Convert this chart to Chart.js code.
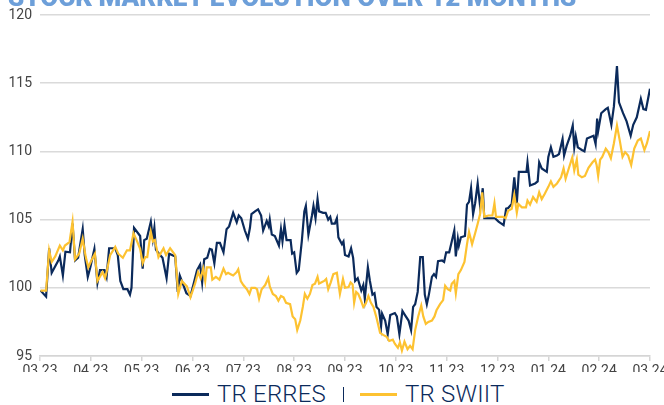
<!DOCTYPE html>
<html>
<head>
<meta charset="utf-8">
<script src="https://cdn.jsdelivr.net/npm/chart.js@4.4.0/dist/chart.umd.min.js"></script>
<style>
  body { margin: 0; background: #fff; }
  #page { position: relative; width: 664px; height: 405px; overflow: hidden; }
  #title { position: absolute; left: 8px; top: -18px; font: 900 26px Roboto, 'Liberation Sans', sans-serif; color: #6d9fd9; white-space: nowrap; }
  #plot { position: absolute; left: 0; top: 0; width: 664px; height: 372px; overflow: hidden; }
  #plot canvas { display: block; }
  #legend { position: absolute; left: 172px; top: 382px; height: 24px; display: flex; align-items: center; font: 300 24px/24px Roboto, 'Liberation Sans', sans-serif; color: #0b2a5b; white-space: nowrap; letter-spacing: 0.2px; }
  .sw { display: inline-block; width: 37px; height: 3px; margin-right: 8px; }
  .sep { display: inline-block; width: 1px; height: 15px; background: #0b2a5b; margin: 0 16px 0 17px; }
</style>
</head>
<body>
<div id="page">
  <div id="plot"><canvas id="grafik" width="664" height="386"></canvas></div>
  <div id="title"></div>
  <div id="legend"></div>
</div>
<script>
const judul = 'STOCK MARKET EVOLUTION OVER 12 MONTHS';
const bulan = ['03.23', '04.23', '05.23', '06.23', '07.23', '08.23', '09.23', '10.23', '11.23', '12.23', '01.24', '02.24', '03.24'];
const namaSeri = ['TR ERRES', 'TR SWIIT'];
const warnaSeri = ['#0b2a5b', '#fdc231'];

// position of each reading in months since 03.23
const erresWaktu = [
  0.01, 0.12, 0.18, 0.23, 0.36, 0.39, 0.45, 0.50, 0.59, 0.64,
  0.69, 0.75, 0.84, 0.88, 0.94, 0.99, 1.07, 1.13, 1.18, 1.27,
  1.31, 1.36, 1.48, 1.53, 1.58, 1.64, 1.72, 1.77, 1.80, 1.85,
  1.97, 2.02, 2.05, 2.10, 2.18, 2.22, 2.25, 2.28, 2.34, 2.41,
  2.49, 2.54, 2.66, 2.71, 2.75, 2.82, 2.88, 2.96, 3.03, 3.09,
  3.15, 3.19, 3.23, 3.29, 3.34, 3.38, 3.43, 3.48, 3.54, 3.61,
  3.67, 3.72, 3.80, 3.87, 3.91, 3.96, 4.03, 4.09, 4.13, 4.16,
  4.23, 4.29, 4.35, 4.39, 4.46, 4.50, 4.52, 4.56, 4.62, 4.70,
  4.74, 4.77, 4.81, 4.85, 4.93, 4.96, 5.00, 5.05, 5.09, 5.15,
  5.20, 5.23, 5.28, 5.35, 5.38, 5.42, 5.46, 5.49, 5.57, 5.62,
  5.67, 5.71, 5.74, 5.80, 5.84, 5.87, 5.94, 5.97, 6.00, 6.07,
  6.12, 6.16, 6.20, 6.25, 6.32, 6.36, 6.39, 6.45, 6.49, 6.54,
  6.58, 6.62, 6.67, 6.71, 6.73, 6.79, 6.84, 6.89, 6.98, 7.02,
  7.07, 7.13, 7.18, 7.25, 7.30, 7.34, 7.38, 7.43, 7.48, 7.53,
  7.57, 7.61, 7.65, 7.71, 7.75, 7.79, 7.83, 7.91, 7.95, 7.99,
  8.05, 8.10, 8.15, 8.18, 8.22, 8.24, 8.28, 8.36, 8.40, 8.44,
  8.48, 8.52, 8.56, 8.61, 8.66, 8.71, 8.74, 8.81, 8.90, 8.95,
  9.02, 9.12, 9.17, 9.21, 9.28, 9.33, 9.38, 9.42, 9.48, 9.57,
  9.59, 9.64, 9.74, 9.79, 9.82, 9.87, 9.97, 10.00, 10.05, 10.10,
  10.17, 10.21, 10.28, 10.31, 10.36, 10.43, 10.48, 10.51, 10.54, 10.58,
  10.66, 10.71, 10.76, 10.89, 10.93, 10.96, 10.98, 11.04, 11.13, 11.17,
  11.24, 11.29, 11.35, 11.39, 11.47, 11.54, 11.62, 11.67, 11.74, 11.82,
  11.87, 11.92, 12.00
];
const erresNilai = [
  99.8, 99.35, 102.9, 101.1, 102.0, 102.3, 100.9, 102.65, 102.6, 104.7,
  102.0, 102.2, 104.3, 102.4, 100.8, 101.5, 102.85, 100.35, 101.3, 101.3,
  100.8, 102.9, 102.9, 102.4, 100.5, 99.9, 99.9, 99.5, 100.0, 104.4,
  103.8, 101.4, 103.5, 103.6, 104.85, 103.6, 104.4, 102.8, 102.5, 102.2,
  100.7, 102.5, 102.3, 99.7, 100.9, 100.2, 99.6, 99.4, 100.4, 101.3,
  101.7, 100.4, 102.1, 102.2, 102.85, 102.8, 101.8, 103.3, 103.3, 102.6,
  104.3, 104.5, 105.5, 104.8, 105.3, 105.1, 104.2, 103.6, 104.4, 105.4,
  105.6, 105.75, 105.3, 104.2, 104.9, 104.5, 105.0, 103.9, 103.8, 103.1,
  104.3, 103.4, 104.6, 103.5, 103.5, 102.5, 102.6, 101.1, 101.3, 103.4,
  105.6, 106.0, 103.9, 105.3, 106.0, 105.1, 106.5, 105.6, 105.5, 105.5,
  105.0, 105.2, 104.7, 104.7, 105.1, 103.7, 103.2, 103.4, 102.4, 102.3,
  102.9, 102.2, 100.5, 100.7, 99.8, 100.2, 99.2, 101.5, 100.5, 99.5,
  99.6, 98.6, 98.4, 97.2, 98.1, 97.6, 96.6, 98.0, 98.15, 97.9,
  96.6, 98.3, 98.0, 97.6, 96.9, 98.6, 98.8, 99.7, 102.25, 102.25,
  99.5, 98.8, 99.5, 100.8, 101.0, 100.8, 101.95, 102.0, 101.9, 102.6,
  102.6, 103.4, 104.2, 102.3, 103.6, 103.1, 103.7, 103.8, 106.1, 106.3,
  107.3, 105.4, 106.2, 107.65, 105.9, 107.3, 105.1, 105.1, 105.1, 105.1,
  104.85, 104.6, 105.8, 105.85, 106.15, 108.1, 106.2, 108.5, 108.5, 108.5,
  109.2, 107.5, 107.65, 107.8, 109.2, 108.75, 108.5, 109.6, 110.3, 109.6,
  109.7, 109.8, 110.9, 109.7, 110.4, 111.15, 111.9, 110.3, 111.1, 110.3,
  110.1, 110.0, 110.95, 111.15, 110.55, 112.4, 111.5, 112.8, 113.1, 113.2,
  111.95, 113.3, 116.25, 113.6, 112.8, 112.2, 111.15, 111.95, 112.5, 113.85,
  113.1, 113.05, 114.6
];

const swiitWaktu = [
  0.01, 0.12, 0.18, 0.23, 0.30, 0.39, 0.45, 0.49, 0.58, 0.64,
  0.69, 0.77, 0.84, 0.90, 0.95, 1.01, 1.08, 1.13, 1.23, 1.28,
  1.31, 1.38, 1.48, 1.54, 1.63, 1.71, 1.77, 1.84, 1.90, 1.97,
  2.02, 2.07, 2.11, 2.18, 2.22, 2.26, 2.33, 2.43, 2.48, 2.56,
  2.66, 2.72, 2.79, 2.89, 2.96, 3.05, 3.11, 3.16, 3.21, 3.25,
  3.28, 3.36, 3.39, 3.46, 3.53, 3.61, 3.66, 3.70, 3.75, 3.80,
  3.87, 3.90, 3.95, 4.00, 4.07, 4.12, 4.16, 4.23, 4.27, 4.31,
  4.36, 4.43, 4.49, 4.52, 4.58, 4.64, 4.69, 4.74, 4.79, 4.84,
  4.92, 4.97, 5.02, 5.06, 5.12, 5.17, 5.21, 5.26, 5.31, 5.36,
  5.41, 5.46, 5.49, 5.54, 5.59, 5.63, 5.67, 5.72, 5.77, 5.84,
  5.90, 5.96, 6.00, 6.07, 6.11, 6.15, 6.18, 6.22, 6.26, 6.30,
  6.36, 6.41, 6.46, 6.51, 6.56, 6.62, 6.69, 6.75, 6.82, 6.87,
  6.94, 6.98, 7.04, 7.08, 7.12, 7.17, 7.23, 7.28, 7.33, 7.38,
  7.44, 7.50, 7.54, 7.59, 7.64, 7.71, 7.76, 7.80, 7.87, 7.93,
  7.97, 8.02, 8.07, 8.10, 8.15, 8.18, 8.23, 8.28, 8.35, 8.40,
  8.44, 8.50, 8.56, 8.61, 8.66, 8.70, 8.74, 8.82, 8.90, 8.94,
  8.97, 9.03, 9.11, 9.16, 9.21, 9.28, 9.33, 9.38, 9.41, 9.48,
  9.56, 9.59, 9.64, 9.70, 9.77, 9.82, 9.87, 9.93, 10.00, 10.05,
  10.10, 10.17, 10.25, 10.30, 10.34, 10.39, 10.47, 10.51, 10.56, 10.59,
  10.66, 10.72, 10.79, 10.87, 10.92, 10.95, 10.98, 11.02, 11.06, 11.13,
  11.18, 11.23, 11.29, 11.35, 11.41, 11.46, 11.51, 11.57, 11.63, 11.69,
  11.76, 11.82, 11.89, 11.94, 12.00
];
const swiitNilai = [
  99.8, 99.8, 102.75, 101.9, 102.3, 103.1, 102.75, 103.1, 103.35, 104.85,
  102.1, 102.5, 103.6, 102.25, 101.5, 102.0, 102.5, 100.5, 101.15, 100.7,
  101.15, 102.4, 103.0, 102.5, 102.2, 102.75, 102.75, 104.0, 103.5, 102.85,
  101.8, 102.25, 102.25, 104.1, 103.4, 103.5, 102.25, 102.9, 102.4, 102.9,
  102.4, 99.55, 100.5, 100.1, 99.3, 100.3, 101.15, 100.7, 101.4, 100.5,
  101.5, 101.5, 100.6, 100.8, 100.6, 101.4, 101.0, 101.1, 101.0, 100.9,
  101.15, 101.35, 100.5, 100.2, 99.9, 99.55, 100.0, 100.0, 99.9, 99.2,
  99.9, 100.2, 100.7, 100.1, 99.55, 99.4, 99.05, 99.4, 99.3, 98.9,
  98.8, 97.9, 97.7, 96.9, 97.6, 98.6, 99.55, 99.2, 99.55, 100.2,
  100.3, 100.8, 100.3, 100.4, 100.5, 100.65, 99.9, 100.4, 101.0, 101.1,
  99.55, 100.65, 100.0, 100.05, 100.4, 100.25, 98.9, 99.7, 99.55, 99.2,
  98.6, 98.85, 99.4, 98.9, 98.6, 97.8, 96.7, 96.55, 96.4, 96.1,
  96.2, 95.9, 95.6, 96.0, 95.4, 96.05, 95.5, 95.75, 95.5, 96.9,
  97.9, 98.7, 97.9, 97.35, 97.5, 97.6, 97.9, 98.35, 98.8, 99.1,
  100.15, 99.9, 99.8, 100.3, 100.5, 99.6, 101.0, 101.3, 101.9, 103.2,
  104.1, 103.2, 104.0, 104.7, 105.45, 107.0, 105.2, 105.3, 105.3, 106.2,
  105.2, 105.2, 105.2, 105.1, 105.65, 105.8, 106.8, 105.5, 106.15, 105.9,
  105.9, 106.4, 106.1, 106.65, 106.3, 107.0, 106.5, 106.9, 107.4, 107.8,
  107.4, 107.65, 108.1, 108.75, 108.0, 108.6, 109.55, 108.6, 109.4, 108.3,
  108.1, 108.2, 108.8, 109.2, 109.4, 109.0, 108.2, 109.4, 109.6, 110.2,
  109.95, 109.5, 110.6, 111.9, 110.7, 109.6, 109.95, 109.7, 109.0, 110.2,
  110.8, 110.95, 110.1, 110.6, 111.5
];

const yTicks = [95, 100, 105, 110, 115, 120];

function gabung(waktu, nilai) {
  return waktu.map((w, i) => ({ x: w, y: nilai[i] }));
}

document.getElementById('title').textContent = judul;

// legend: line swatch + name, thin bar between the two series
const legend = document.getElementById('legend');
namaSeri.forEach((nama, i) => {
  if (i > 0) {
    const sep = document.createElement('span');
    sep.className = 'sep';
    legend.appendChild(sep);
  }
  const sw = document.createElement('span');
  sw.className = 'sw';
  sw.style.background = warnaSeri[i];
  legend.appendChild(sw);
  const t = document.createElement('span');
  t.textContent = nama;
  legend.appendChild(t);
});

const ctx = document.getElementById('grafik').getContext('2d');
const chart = new Chart(ctx, {
  type: 'line',
  data: {
    datasets: [{
      label: namaSeri[0],
      data: gabung(erresWaktu, erresNilai),
      borderColor: warnaSeri[0],
      borderWidth: 2.2,
      pointRadius: 0,
      tension: 0,
      order: 1
    }, {
      label: namaSeri[1],
      data: gabung(swiitWaktu, swiitNilai),
      borderColor: warnaSeri[1],
      borderWidth: 2.2,
      pointRadius: 0,
      tension: 0,
      order: 0
    }]
  },
  options: {
    responsive: false,
    animation: false,
    layout: { padding: { top: 15, right: 14, left: 0, bottom: 0 } },
    plugins: {
      legend: { display: false },
      tooltip: { enabled: false }
    },
    scales: {
      x: {
        type: 'linear',
        min: 0,
        max: 12,
        afterFit: (s) => { s.height = 30; s.paddingLeft = 0; s.paddingRight = 0; },
        afterBuildTicks: (s) => { s.ticks = bulan.map((b, i) => ({ value: i })); },
        ticks: {
          callback: (v) => bulan[v],
          autoSkip: false,
          maxRotation: 0,
          padding: 2,
          color: '#444',
          font: { family: 'Roboto, "Liberation Sans", sans-serif', size: 14 }
        },
        grid: { drawOnChartArea: false, drawTicks: true, tickLength: 5, color: '#d5d5d5', lineWidth: 1.5 },
        border: { display: true, color: '#d5d5d5', width: 1.5 }
      },
      y: {
        min: 95,
        max: 120,
        afterFit: (s) => { s.width = 40; s.paddingTop = 0; s.paddingBottom = 0; },
        afterBuildTicks: (s) => { s.ticks = yTicks.map((v) => ({ value: v })); },
        ticks: {
          padding: 8,
          color: '#444',
          font: { family: 'Roboto, "Liberation Sans", sans-serif', size: 14 }
        },
        grid: { color: '#dadada', lineWidth: 1.5, drawTicks: false },
        border: { display: false }
      }
    }
  }
});
</script>
</body>
</html>
